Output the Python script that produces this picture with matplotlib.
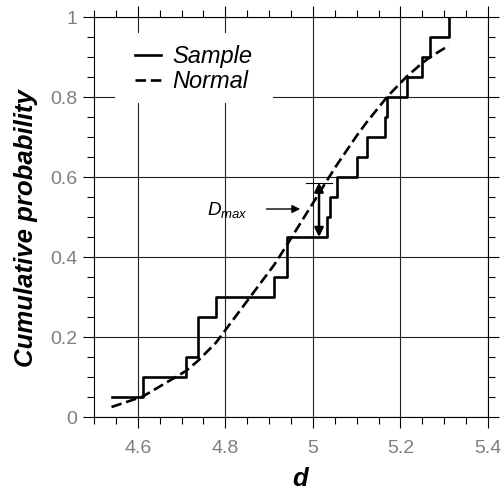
import matplotlib
matplotlib.use('Agg')
import matplotlib.pyplot as plt
from matplotlib.patches import Rectangle
from matplotlib.ticker import MultipleLocator, FixedLocator, FixedFormatter

plt.rcParams['font.family'] = ['Liberation Sans', 'DejaVu Sans']
plt.rcParams['mathtext.fontset'] = 'custom'
plt.rcParams['mathtext.it'] = 'Liberation Sans:italic'
plt.rcParams['mathtext.rm'] = 'Liberation Sans'

# Données
d_sample = [4.540, 4.611, 4.710, 4.737, 4.737, 4.778, 4.912, 4.940, 4.940, 5.032,
            5.039, 5.054, 5.100, 5.123, 5.165, 5.170, 5.215, 5.249, 5.268, 5.311]
p_sample = [0.05, 0.10, 0.15, 0.20, 0.25, 0.30, 0.35, 0.40, 0.45, 0.50,
            0.55, 0.60, 0.65, 0.70, 0.75, 0.80, 0.85, 0.90, 0.95, 1.00]
p_normal = [0.025, 0.051, 0.115, 0.140, 0.140, 0.185, 0.381, 0.429, 0.429, 0.591,
            0.603, 0.629, 0.703, 0.737, 0.794, 0.801, 0.852, 0.884, 0.900, 0.929]

x_ticks = [4.6, 4.8, 5.0, 5.2, 5.4]
x_labels = ['4.6', '4.8', '5', '5.2', '5.4']
y_ticks = [0, 0.2, 0.4, 0.6, 0.8, 1.0]
y_labels = ['0', '0.2', '0.4', '0.6', '0.8', '1']

# Annotation D_max
dmax_x = 5.014
dmax_low = 0.45
dmax_high = 0.586

fig = plt.figure(figsize=(5.03, 4.93), dpi=100)
ax = fig.add_axes([94/503, 1-417/493, 394/503, 400/493])

ax.plot(d_sample, p_sample, drawstyle='steps-post', color='black', lw=1.9,
        label='Sample', zorder=3)
ax.plot(d_sample, p_normal, color='black', lw=1.9, dashes=(4, 1.8),
        label='Normal', zorder=3)

# Dmax
ax.plot([dmax_x - 0.03, dmax_x + 0.03], [dmax_high, dmax_high],
        color='black', lw=0.8, zorder=3)
ax.annotate('', xy=(dmax_x, dmax_high), xytext=(dmax_x, dmax_low),
            arrowprops=dict(arrowstyle='<|-|>', color='black', lw=1.8,
                            mutation_scale=13, shrinkA=0, shrinkB=0), zorder=4)
ax.annotate('', xy=(4.971, 0.52), xytext=(4.894, 0.52),
            arrowprops=dict(arrowstyle='-|>', color='black', lw=1.0,
                            mutation_scale=12, shrinkA=0, shrinkB=0))
ax.text(4.852, 0.505, r'$\mathit{D}_{\mathit{max}}$', fontsize=13.5,
        ha='right', va='baseline')

ax.set_xlim(4.5, 5.4)
ax.set_ylim(0, 1)
ax.xaxis.set_major_locator(FixedLocator(x_ticks))
ax.xaxis.set_major_formatter(FixedFormatter(x_labels))
ax.yaxis.set_major_locator(FixedLocator(y_ticks))
ax.yaxis.set_major_formatter(FixedFormatter(y_labels))
ax.xaxis.set_minor_locator(MultipleLocator(0.05))
ax.yaxis.set_minor_locator(MultipleLocator(0.05))
ax.tick_params(which='both', direction='out', top=True, right=True,
               width=0.8, color='black')
ax.tick_params(which='major', length=8, labelsize=14, labelcolor='#7f7f7f')
ax.tick_params(axis='x', which='major', pad=8.5)
ax.tick_params(axis='y', which='major', pad=4)
ax.tick_params(which='minor', length=4.7)
for s in ax.spines.values():
    s.set_linewidth(0.8)

ax.grid(True, which='major', color='#222222', lw=0.8, zorder=1)
ax.set_axisbelow(True)

ax.set_xlabel('d', fontsize=18.5, fontweight='bold', fontstyle='italic')
ax.set_ylabel('Cumulative probability', fontsize=18.5, fontweight='bold',
              fontstyle='italic')
ax.xaxis.set_label_coords(0.523, -0.125)
ax.yaxis.set_label_coords(-0.142, 0.4725)

# fond blanc de la légende (cache la grille)
ax.add_patch(Rectangle((21/394, 314/400), 158/394, 70/400, transform=ax.transAxes,
                       facecolor='white', edgecolor='none', zorder=2))
leg = ax.legend(loc='upper left', bbox_to_anchor=(0.104, 0.929),
                borderaxespad=0, handlelength=1.1,
                handletextpad=0.5, labelspacing=0.08, borderpad=0,
                frameon=False, prop={'style': 'italic', 'size': 17})

fig.savefig('out.png', dpi=100)
